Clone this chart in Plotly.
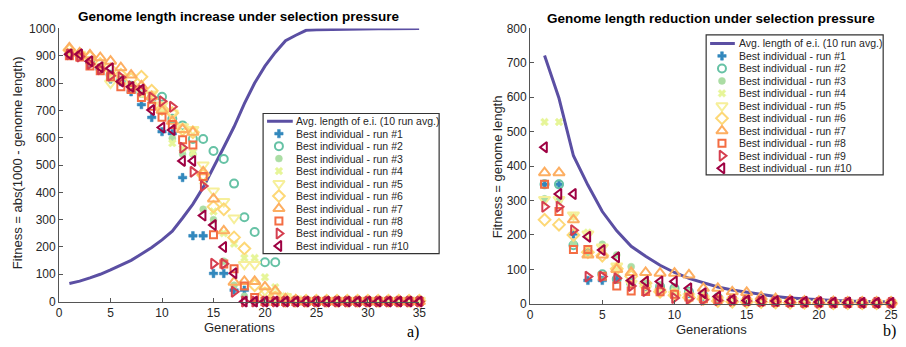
import plotly.graph_objects as go

# ---------------- data ----------------
gens_left = list(range(1, 36))
avg_len_left = [66, 75, 87, 100, 116, 133, 151, 174, 198, 226, 258, 306, 357, 418, 490,
                565, 640, 725, 800, 862, 912, 955, 975, 993, 995, 996, 997, 998, 998, 999,
                999, 999, 999, 1000, 1000]
left_runs = [
    [905, 900, 875, 850, 815, 805, 768, 721, 674, 622, 615, 454, 241, 241, 103, 103, 42, 42] + [0] * 17,
    [905, 900, 880, 855, 830, 810, 790, 765, 745, 750, 669, 645, 595, 595, 551, 522, 432, 309, 255, 144, 144] + [0] * 14,
    [910, 900, 875, 850, 815, 810, 790, 760, 740, 700, 598, 540, 540, 338, 300, 148, 60, 20] + [0] * 17,
    [915, 900, 880, 855, 820, 810, 785, 760, 735, 700, 580, 560, 546, 440, 330, 250, 212, 160, 160, 89, 53, 20, 5] + [0] * 12,
    [915, 905, 885, 860, 800, 820, 790, 770, 760, 720, 690, 640, 630, 500, 405, 366, 306, 136, 136, 40, 25, 19, 10] + [5] * 12,
    [920, 905, 895, 870, 850, 830, 815, 823, 772, 705, 690, 630, 620, 463, 347, 338, 235, 194, 60, 30, 15] + [3] * 14,
    [929, 910, 903, 893, 880, 856, 829, 790, 750, 700, 660, 630, 620, 475, 376, 259, 71, 74, 74, 54, 39, 10, 5] + [0] * 12,
    [900, 895, 862, 845, 823, 786, 776, 747, 715, 675, 648, 592, 573, 458, 245, 138, 120, 57, 15] + [0] * 16,
    [905, 897, 870, 850, 827, 821, 788, 772, 747, 733, 713, 563, 475, 423, 139, 139, 36] + [0] * 18,
    [905, 905, 880, 858, 854, 806, 786, 776, 701, 637, 628, 515, 515, 315, 280, 200, 104] + [0] * 18,
]

gens_right = list(range(1, 26))
avg_len_right = [721, 597, 430, 345, 268, 212, 167, 138, 112, 91, 74, 61, 49, 40, 33, 26, 21,
                 17, 14, 12, 10, 8, 7, 6, 5]
right_runs = [
    [347, 347, 203, 68, 68, 72, 60, 50, 45, 40, 30, 22, 15, 10, 8, 6, 5, 4, 3, 3, 2, 2, 2, 2, 2],
    [347, 347, 170, 147, 86, 72, 60, 55, 50, 45, 35, 25, 18, 12, 10, 8, 6, 5, 4, 3, 3, 2, 2, 2, 2],
    [305, 300, 175, 145, 173, 142, 108, 60, 55, 45, 35, 25, 18, 12, 10, 8, 6, 5, 4, 3, 3, 2, 2, 2, 2],
    [528, 528, 254, 207, 160, 100, 60, 50, 40, 35, 28, 20, 15, 10, 8, 6, 5, 4, 3, 3, 2, 2, 2, 2, 2],
    [303, 303, 258, 203, 165, 110, 60, 45, 35, 28, 22, 16, 12, 9, 7, 6, 5, 4, 3, 3, 2, 2, 2, 2, 2],
    [244, 230, 200, 150, 140, 102, 80, 60, 35, 25, 18, 14, 8, 6, 5, 5, 4, 3, 3, 2, 2, 2, 2, 2, 2],
    [381, 381, 244, 142, 142, 100, 91, 91, 89, 89, 84, 45, 45, 35, 33, 20, 15, 10, 8, 7, 6, 5, 5, 5, 5],
    [347, 268, 158, 158, 80, 52, 37, 36, 35, 28, 20, 15, 12, 10, 8, 6, 5, 4, 3, 3, 2, 2, 2, 2, 2],
    [282, 282, 214, 79, 79, 74, 52, 37, 40, 17, 15, 12, 10, 9, 8, 7, 6, 5, 4, 3, 3, 3, 3, 3, 3],
    [455, 319, 319, 195, 156, 135, 68, 65, 65, 65, 45, 31, 21, 12, 10, 9, 8, 7, 6, 5, 4, 4, 3, 3, 3],
]

line_name = "Avg. length of e.i. (10 run avg.)"
run_names = ["Best individual - run #%d" % i for i in range(1, 11)]
left_x_ticks = [0, 5, 10, 15, 20, 25, 30, 35]
left_y_ticks = list(range(0, 1001, 100))
right_x_ticks = [0, 5, 10, 15, 20, 25]
right_y_ticks = list(range(0, 801, 100))

# ---------------- styles ----------------
line_color = "#5b4fa3"
run_colors = ["#3288bd", "#66c2a5", "#abdda4", "#e6f598", "#f6ef9a",
              "#fdd877", "#fdae61", "#f46d43", "#d53e4f", "#9e0142"]
run_symbols = ["cross", "circle-open", "circle", "x", "triangle-down-open",
               "diamond-open", "triangle-up-open", "square-open",
               "triangle-right-open", "triangle-left-open"]
run_sizes = [7, 8, 7, 7, 10, 9, 10, 7, 9, 9]
run_lw = [0.5, 2, 0.5, 0.5, 2, 2, 2, 2, 2, 2]

W, H = 906, 347
def px(x):
    return x / W
def py(y):
    return 1 - y / H

FONT = "Arial"
TXT = "#262626"
AX = "#555555"

fig = go.Figure()

def add_panel(xa, ya, gens, avg, runs):
    fig.add_trace(go.Scatter(x=gens, y=avg, mode="lines", xaxis=xa, yaxis=ya,
                             line=dict(color=line_color, width=3), showlegend=False,
                             cliponaxis=False))
    for i, r in enumerate(runs):
        fig.add_trace(go.Scatter(
            x=gens, y=r, mode="markers", xaxis=xa, yaxis=ya, showlegend=False,
            cliponaxis=False,
            marker=dict(symbol=run_symbols[i], size=run_sizes[i], color=run_colors[i],
                        line=dict(color=run_colors[i], width=run_lw[i]))))

add_panel("x", "y", gens_left, avg_len_left, left_runs)
add_panel("x2", "y2", gens_right, avg_len_right, right_runs)

# ---------------- custom legends (compact rows) ----------------
def add_legend(xa, ya, marker_x, line_x0, line_x1, text_x):
    rows = list(range(11))
    fig.add_trace(go.Scatter(x=[line_x0, line_x1], y=[0, 0], mode="lines", xaxis=xa, yaxis=ya,
                             line=dict(color=line_color, width=3), showlegend=False,
                             hoverinfo="skip"))
    for i in range(10):
        fig.add_trace(go.Scatter(
            x=[marker_x], y=[rows[i + 1]], mode="markers", xaxis=xa, yaxis=ya, showlegend=False,
            hoverinfo="skip",
            marker=dict(symbol=run_symbols[i], size=run_sizes[i], color=run_colors[i],
                        line=dict(color=run_colors[i], width=run_lw[i]))))
    names = [line_name] + run_names
    for i, n in enumerate(names):
        fig.add_annotation(x=text_x, y=rows[i], xref=xa, yref=ya, text=n, showarrow=False,
                           xanchor="left", yanchor="middle",
                           font=dict(family=FONT, size=10.5, color=TXT))

add_legend("x3", "y3", 16, 4, 30, 31)
add_legend("x4", "y4", 16, 4, 29, 31)

axis_common = dict(showgrid=False, zeroline=False, showline=True, linecolor=AX, linewidth=1,
                   ticks="inside", ticklen=4, tickcolor=AX, mirror=False,
                   tickfont=dict(family=FONT, size=12, color=TXT))
hidden = dict(visible=False, showgrid=False, zeroline=False, fixedrange=True)

fig.update_layout(
    width=W, height=H, autosize=False, margin=dict(l=0, r=0, t=0, b=0),
    paper_bgcolor="white", plot_bgcolor="rgba(0,0,0,0)", showlegend=False,
    xaxis=dict(domain=[px(56.7), px(421)], range=[0, 35], tickvals=left_x_ticks, anchor="y",
               **axis_common),
    yaxis=dict(domain=[py(307), py(22.3)], range=[0, 1000], tickvals=left_y_ticks, anchor="x",
               **axis_common),
    xaxis2=dict(domain=[px(533), px(898)], range=[0, 25], tickvals=right_x_ticks, anchor="y2",
                **axis_common),
    yaxis2=dict(domain=[py(309.3), py(22.3)], range=[0, 800], tickvals=right_y_ticks, anchor="x2",
                **axis_common),
    xaxis3=dict(domain=[px(263), px(441)], range=[0, 178], anchor="y3", **hidden),
    yaxis3=dict(domain=[py(257), py(111)], range=[(257 - 119) / 13, (111 - 119) / 13],
                anchor="x3", **hidden),
    xaxis4=dict(domain=[px(711), px(890)], range=[0, 179], anchor="y4", **hidden),
    yaxis4=dict(domain=[py(175), py(29)], range=[(175 - 38) / 13, (29 - 38) / 13],
                anchor="x4", **hidden),
)

# legend boxes
for (x0, x1, y0, y1) in [(263, 441, 111, 257), (711, 890, 29, 175)]:
    fig.add_shape(type="rect", xref="paper", yref="paper", x0=px(x0), x1=px(x1),
                  y0=py(y1), y1=py(y0), line=dict(color="#333333", width=1.2),
                  fillcolor="rgba(255,255,255,1)", layer="below")

def text(x, y, s, size, bold=False, angle=0, family=FONT, color=TXT, xanchor="center"):
    fig.add_annotation(x=px(x), y=py(y), xref="paper", yref="paper", text=("<b>%s</b>" % s) if bold else s,
                       showarrow=False, xanchor=xanchor, yanchor="middle", textangle=angle,
                       font=dict(family=family, size=size, color=color))

text(238.5, 9.5, "Genome length increase under selection pressure", 13.5, bold=True, color="#000")
text(716, 11.5, "Genome length reduction under selection pressure", 13.5, bold=True, color="#000")
text(239, 333.5, "Generations", 13)
text(716, 336, "Generations", 13)
text(15.5, 162.5, "Fitness = abs(1000 - genome length)", 13, angle=-90)
text(500, 166.5, "Fitness = genome length", 13, angle=-90)
text(423, 339, "a)", 16, family="Times New Roman", color="#000", xanchor="right")
text(905, 338, "b)", 16, family="Times New Roman", color="#000", xanchor="right")

post = (
    "document.documentElement.style.margin='0';"
    "document.documentElement.style.overflow='hidden';"
    "document.body.style.margin='0';document.body.style.overflow='hidden';"
    "document.body.style.height='347px';"
    "var d=document.getElementsByClassName('plotly-graph-div')[0];"
    "d.style.position='absolute';d.style.left='0px';d.style.top='0px';"
)
fig.write_html("out.html", config={"displayModeBar": False, "staticPlot": True}, post_script=post)
